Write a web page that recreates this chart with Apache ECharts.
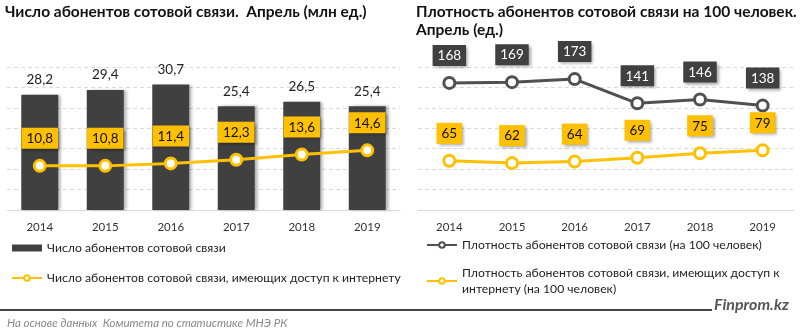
<!DOCTYPE html>
<html><head><meta charset="utf-8">
<script src="https://cdn.jsdelivr.net/npm/echarts@6/dist/echarts.min.js"></script>
<style>html,body{margin:0;padding:0;background:#fff}#c{width:800px;height:330px}</style>
</head><body><div id="c"></div>
<script>
const years = ['2014','2015','2016','2017','2018','2019'];
const subscribers = [28.2, 29.4, 30.7, 25.4, 26.5, 25.4];
const subscribersInternet = [10.8, 10.8, 11.4, 12.3, 13.6, 14.6];
const density = [168, 169, 173, 141, 146, 138];
const densityInternet = [65, 62, 64, 69, 75, 79];

const leftTitle = 'Число абонентов сотовой связи.  Апрель (млн ед.)';
const rightTitle1 = 'Плотность абонентов сотовой связи на 100 человек.';
const rightTitle2 = 'Апрель (ед.)';
const nameBars = 'Число абонентов сотовой связи';
const nameLine = 'Число абонентов сотовой связи, имеющих доступ к интернету';
const nameDens = 'Плотность абонентов сотовой связи (на 100 человек)';
const nameDensNet = 'Плотность абонентов сотовой связи, имеющих доступ к интернету (на 100 человек)';
const sourceText = 'На основе данных  Комитета по статистике МНЭ РК';
const brand = 'Finprom.kz';

const FONT = 'Lato, "Noto Sans", sans-serif';
const YEL = '#FFC000', DARK = '#404040', GRAYLINE = '#505050';
const comma = v => String(v.value !== undefined ? v.value : v).replace('.', ',');

const chart = echarts.init(document.getElementById('c'), null, {renderer: 'canvas'});

const axisX = (gi) => ({
  type: 'category', gridIndex: gi, data: years,
  axisLine: {show: true, lineStyle: {color: '#d9d9d9', width: 1}},
  axisTick: {show: false},
  axisLabel: {fontFamily: FONT, fontSize: 11.5, color: '#333', margin: 11}
});
const axisY = (gi, max, interval) => ({
  type: 'value', gridIndex: gi, min: 0, max: max, interval: interval,
  axisLine: {show: false}, axisTick: {show: false}, axisLabel: {show: false},
  splitLine: {show: true, lineStyle: {color: '#d9d9d9', type: [4, 3], width: 1}}
});

const boxLabel = (bg, fg) => ({
  show: true, position: 'top', distance: 10,
  formatter: comma, fontFamily: FONT, fontSize: 13.5, color: fg,
  backgroundColor: bg, padding: [4, 5, 3, 5],
  shadowBlur: 3, shadowOffsetX: 2, shadowOffsetY: 2, shadowColor: 'rgba(0,0,0,0.35)'
});

chart.setOption({
  animation: false,
  textStyle: {fontFamily: FONT},
  grid: [
    {left: 7, width: 393, top: 67, height: 143},
    {left: 418, width: 376, top: 67, height: 143}
  ],
  xAxis: [axisX(0), axisX(1)],
  yAxis: [axisY(0, 35, 5), axisY(1, 189, 27)],
  legend: [
    {
      orient: 'vertical', left: 6, top: 237, itemGap: 18,
      itemWidth: 30, itemHeight: 7,
      textStyle: {fontFamily: FONT, fontSize: 12.2, color: '#222'},
      data: [{name: nameBars, icon: 'rect'}, {name: nameLine}]
    },
    {
      orient: 'vertical', left: 421, top: 232, itemGap: 12,
      itemWidth: 30, itemHeight: 7,
      textStyle: {fontFamily: FONT, fontSize: 12.2, color: '#222', lineHeight: 16},
      formatter: n => n === nameDensNet ? 'Плотность абонентов сотовой связи, имеющих доступ к\nинтернету (на 100 человек)' : n,
      data: [{name: nameDens}, {name: nameDensNet}]
    }
  ],
  series: [
    {
      name: nameBars, type: 'bar', xAxisIndex: 0, yAxisIndex: 0, data: subscribers,
      barWidth: 37, clip: false,
      itemStyle: {color: DARK, shadowBlur: 3, shadowOffsetX: 3, shadowColor: 'rgba(0,0,0,0.3)'},
      label: {show: true, position: 'top', distance: 8, formatter: comma, fontFamily: FONT, fontSize: 13.5, color: '#222'},
      z: 2
    },
    {
      name: nameLine, type: 'line', xAxisIndex: 0, yAxisIndex: 0, data: subscribersInternet,
      symbol: 'circle', symbolSize: 11,
      lineStyle: {color: YEL, width: 3},
      itemStyle: {color: '#fff', borderColor: YEL, borderWidth: 3},
      label: boxLabel(YEL, '#111'), z: 3
    },
    {
      name: nameDens, type: 'line', xAxisIndex: 1, yAxisIndex: 1, data: density,
      symbol: 'circle', symbolSize: 11, clip: false,
      lineStyle: {color: GRAYLINE, width: 3},
      itemStyle: {color: '#fff', borderColor: GRAYLINE, borderWidth: 3},
      label: boxLabel(DARK, '#fff'), z: 3
    },
    {
      name: nameDensNet, type: 'line', xAxisIndex: 1, yAxisIndex: 1, data: densityInternet,
      symbol: 'circle', symbolSize: 11,
      lineStyle: {color: YEL, width: 3},
      itemStyle: {color: '#fff', borderColor: YEL, borderWidth: 3},
      label: boxLabel(YEL, '#111'), z: 3
    }
  ],
  graphic: [
    {type: 'text', left: 5, top: 4, style: {text: leftTitle, font: 'bold 15.5px ' + FONT, fill: '#111'}},
    {type: 'text', left: 416, top: 4, style: {text: rightTitle1, font: 'bold 15.5px ' + FONT, fill: '#111'}},
    {type: 'text', left: 416, top: 22, style: {text: rightTitle2, font: 'bold 15.5px ' + FONT, fill: '#111'}},
    {type: 'line', shape: {x1: 0, y1: 310, x2: 712, y2: 310}, style: {stroke: '#444', lineWidth: 2}},
    {type: 'text', left: 714, top: 297, style: {text: brand, font: 'italic bold 16px ' + FONT, fill: '#555'}},
    {type: 'text', left: 7, top: 317, style: {text: sourceText, font: 'italic 11.5px ' + FONT, fill: '#888'}}
  ]
});
</script></body></html>
